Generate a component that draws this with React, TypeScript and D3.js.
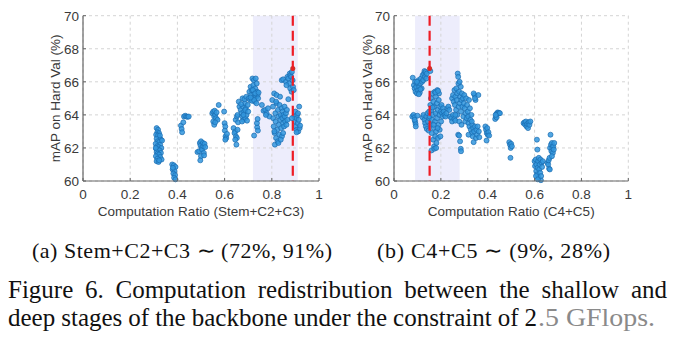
import React, { useMemo } from "react";
import * as d3 from "d3";

// ---------- DATA ----------
const xTicks = [0, 0.2, 0.4, 0.6, 0.8, 1];
const xTickLabels = ["0", "0.2", "0.4", "0.6", "0.8", "1"];
const yTicks = [60, 62, 64, 66, 68, 70];
const yTickLabels = ["60", "62", "64", "66", "68", "70"];

const yLabel = "mAP on Hard Val (%)";
const xLabelA = "Computation Ratio (Stem+C2+C3)";
const xLabelB = "Computation Ratio (C4+C5)";
const captionA = "(a) Stem+C2+C3 \u223C (72%, 91%)";
const captionB = "(b) C4+C5 \u223C (9%, 28%)";
const figLine1 = ["Figure", "6.", "Computation", "redistribution", "between", "the", "shallow", "and"];
const figLine2 = ["deep", "stages", "of", "the", "backbone", "under", "the", "constraint", "of", "2"];
const figTail = ".5 GFlops.";

const rangeA = [0.72, 0.91];
const bestA = [0.889, 66.8];
const rangeB = [0.09, 0.28];
const bestB = [0.152, 66.8];

const pointsA: [number, number][] = [
  [0.312,63.2],[0.318,63.1],[0.315,62.95],[0.322,62.9],[0.31,62.8],[0.318,62.75],[0.325,62.6],[0.312,62.55],[0.33,62.5],[0.316,62.4],[0.322,62.35],[0.308,62.25],[0.327,62.2],[0.314,62.1],[0.32,62.05],[0.332,62.0],[0.31,61.95],[0.318,61.9],[0.325,61.85],[0.312,61.75],[0.33,61.7],[0.316,61.65],[0.322,61.6],[0.309,61.5],[0.327,61.45],[0.315,61.35],[0.333,61.3],[0.312,61.2],[0.32,61.15],[0.326,62.75],[0.335,62.45],[0.308,62.0],[0.323,61.25],
  [0.378,61.0],[0.385,60.95],[0.392,60.85],[0.38,60.7],[0.388,60.6],[0.383,60.45],[0.39,60.35],[0.386,60.2],[0.392,60.1],[0.381,60.8],
  [0.415,63.35],[0.418,63.15],[0.42,62.95],[0.425,63.55],[0.428,63.9],[0.433,63.95],[0.438,63.9],[0.443,63.88],[0.448,63.9],
  [0.485,61.75],[0.492,61.8],[0.495,62.3],[0.5,62.4],[0.498,62.15],[0.503,62.0],[0.508,62.3],[0.505,61.9],[0.51,62.1],[0.512,61.7],[0.515,62.25],[0.5,61.5],[0.497,61.25],[0.513,61.55],[0.518,62.05],
  [0.548,64.1],[0.552,64.2],[0.556,63.9],[0.552,63.6],[0.556,63.4],[0.56,64.0],[0.564,63.8],[0.558,64.25],[0.566,64.15],[0.57,63.7],[0.575,64.6],[0.56,63.55],
  [0.598,64.2],[0.6,63.5],[0.603,63.3],[0.601,63.05],[0.604,62.7],[0.607,62.6],[0.603,62.5],[0.61,62.85],
  [0.638,63.2],[0.645,63.0],[0.642,62.9],[0.648,62.7],[0.652,62.6],[0.645,62.5],[0.65,62.2],[0.655,63.1],[0.647,63.7],[0.652,63.9],[0.655,64.0],[0.66,64.8],[0.663,64.5],[0.657,63.55],
  [0.668,64.3],[0.672,64.1],[0.675,63.9],[0.678,64.5],[0.68,63.7],[0.683,64.2],[0.686,64.7],[0.688,63.8],[0.69,64.4],[0.693,64.0],[0.695,63.65],[0.698,64.6],[0.67,64.65],[0.676,65.0],[0.684,64.95],[0.692,65.1],[0.68,64.0],[0.688,64.3],[0.7,64.2],[0.674,63.6],
  [0.702,65.0],[0.705,65.4],[0.708,64.9],[0.71,65.7],[0.712,65.2],[0.715,65.5],[0.718,66.2],[0.72,65.0],[0.722,65.8],[0.724,66.1],[0.726,65.3],[0.728,64.8],[0.73,65.6],[0.732,66.2],[0.734,65.1],[0.736,65.9],[0.738,65.4],[0.74,65.2],[0.742,65.0],[0.716,64.85],[0.725,64.9],[0.735,64.7],[0.71,65.05],[0.72,65.5],[0.73,65.3],[0.744,65.35],
  [0.725,62.75],[0.738,63.25],[0.737,63.5],[0.74,63.75],[0.741,63.05],
  [0.758,64.6],[0.765,64.25],[0.772,64.3],[0.778,64.1],[0.784,64.4],[0.79,63.9],[0.775,64.0],
  [0.802,64.9],[0.805,64.5],[0.806,63.8],[0.808,63.3],[0.81,65.3],[0.812,62.9],[0.813,62.2],[0.815,64.1],[0.816,63.6],[0.818,62.6],[0.82,65.2],[0.821,64.7],[0.823,63.1],[0.825,62.4],[0.826,64.3],[0.828,63.9],[0.83,63.4],[0.832,62.8],[0.833,64.6],[0.835,65.1],[0.836,63.7],[0.838,64.0],[0.84,63.2],[0.842,64.4],[0.843,62.7],[0.845,63.8],[0.846,64.2],[0.848,63.5],[0.85,64.0],[0.852,63.3],[0.854,64.5],[0.855,63.9],[0.857,63.6],[0.86,64.1],[0.862,63.4],[0.864,64.3],[0.866,63.7],[0.818,64.8],[0.828,62.3],[0.838,62.5],[0.848,62.9],[0.811,63.0],
  [0.842,66.1],[0.848,66.15],[0.86,66.0],[0.866,66.3],[0.87,66.2],[0.873,65.9],[0.876,66.5],[0.879,66.4],[0.882,66.3],[0.885,66.6],[0.888,66.1],[0.878,65.6],[0.884,65.4],[0.89,65.7],[0.893,65.5],[0.87,64.95],[0.862,65.8],
  [0.895,63.9],[0.898,63.6],[0.9,64.2],[0.902,63.3],[0.904,63.8],[0.906,63.1],[0.908,64.0],[0.91,63.5],[0.912,63.0],[0.914,63.7],[0.916,64.5],[0.918,63.2],[0.92,63.35],[0.905,62.95],[0.885,63.8],[0.911,64.1],
];

const pointsB: [number, number][] = [
  [0.08,66.25],[0.085,65.8],[0.088,65.6],[0.09,66.0],[0.092,65.4],[0.095,65.7],[0.098,65.3],[0.1,65.9],[0.103,65.5],[0.105,66.1],[0.108,65.7],[0.11,65.35],[0.112,65.9],[0.115,66.2],[0.118,65.6],[0.12,66.0],[0.122,66.4],[0.125,66.1],[0.128,66.5],[0.13,66.65],[0.132,66.3],[0.135,66.6],[0.113,65.55],[0.106,65.25],[0.138,66.2],[0.14,66.5],[0.155,66.65],[0.098,66.0],
  [0.078,63.9],[0.083,64.0],[0.088,63.85],[0.09,63.6],[0.092,63.45],[0.093,63.3],[0.1,63.95],[0.088,63.7],
  [0.122,63.85],[0.126,64.0],[0.13,63.7],[0.133,63.5],[0.136,63.3],[0.138,63.9],[0.14,63.15],[0.143,64.1],[0.145,63.6],[0.148,63.05],[0.15,63.8],
  [0.15,64.2],[0.152,63.9],[0.155,64.6],[0.156,63.4],[0.158,65.0],[0.16,64.3],[0.161,62.9],[0.163,63.7],[0.164,65.3],[0.166,64.0],[0.167,62.5],[0.168,64.8],[0.17,63.2],[0.171,62.1],[0.172,64.5],[0.174,65.4],[0.175,63.6],[0.176,62.7],[0.178,64.1],[0.179,65.1],[0.18,63.0],[0.181,62.3],[0.183,64.7],[0.184,63.8],[0.185,65.5],[0.187,64.3],[0.188,62.6],[0.19,63.4],[0.191,64.9],[0.192,65.3],[0.194,64.0],[0.195,63.1],[0.197,64.5],[0.198,62.7],[0.2,64.2],[0.201,63.6],[0.203,64.6],[0.205,64.1],[0.207,63.9],[0.209,64.4],[0.16,61.85],[0.172,61.95],[0.18,62.0],[0.165,64.45],[0.177,65.35],[0.188,65.45],[0.169,63.4],[0.186,63.2],
  [0.212,64.2],[0.216,64.0],[0.22,63.9],[0.224,64.1],[0.228,64.4],[0.232,64.5],[0.236,64.3],[0.24,63.9],[0.245,63.8],[0.248,63.6],[0.252,64.0],[0.258,63.75],[0.262,63.65],
  [0.248,65.0],[0.252,65.2],[0.255,64.8],[0.258,65.5],[0.26,64.6],[0.262,65.1],[0.265,64.3],[0.266,65.6],[0.268,64.9],[0.27,65.3],[0.272,66.5],[0.274,66.3],[0.275,65.9],[0.276,64.5],[0.278,65.4],[0.28,66.0],[0.281,64.7],[0.283,65.1],[0.285,65.7],[0.286,64.2],[0.288,64.9],[0.29,65.3],[0.292,64.5],[0.294,65.0],[0.296,63.9],[0.298,64.7],[0.3,65.2],[0.302,64.4],[0.304,63.6],[0.306,64.1],[0.308,65.0],[0.31,63.8],[0.27,64.0],[0.279,63.6],[0.288,63.4],[0.262,64.0],
  [0.274,62.8],[0.278,62.75],[0.282,62.4],[0.285,61.95],[0.286,61.8],
  [0.312,64.6],[0.315,64.2],[0.317,63.9],[0.318,63.5],[0.32,64.9],[0.322,63.3],[0.324,64.4],[0.326,63.7],[0.328,63.1],[0.33,64.0],[0.332,62.9],[0.334,63.4],[0.336,62.7],[0.338,63.2],[0.34,62.35],[0.342,63.0],[0.344,65.2],[0.346,63.3],[0.348,64.9],[0.35,62.6],[0.352,63.1],[0.355,62.8],[0.357,63.3],[0.36,65.2],[0.362,63.0],[0.364,62.65],[0.34,65.3],[0.345,65.0],[0.318,62.8],[0.332,63.6],
  [0.39,63.3],[0.393,63.1],[0.396,62.9],[0.398,63.2],[0.4,62.8],[0.403,62.95],[0.406,62.75],[0.395,62.45],
  [0.432,63.75],[0.435,63.9],[0.437,64.05],[0.44,64.1],[0.443,64.15],[0.446,64.1],[0.449,64.12],[0.452,64.1],[0.438,63.85],[0.434,64.0],
  [0.492,62.35],[0.495,62.2],[0.498,62.0],[0.5,62.25],[0.503,62.1],[0.497,61.4],
  [0.553,63.5],[0.557,63.55],[0.56,63.4],[0.563,63.6],[0.566,63.3],[0.569,63.45],[0.572,63.2],[0.575,63.55],[0.578,63.4],[0.582,63.6],
  [0.6,61.2],[0.602,60.9],[0.605,61.3],[0.607,60.6],[0.608,61.0],[0.61,62.5],[0.611,60.4],[0.612,61.9],[0.613,60.8],[0.615,61.2],[0.617,60.2],[0.618,61.4],[0.62,60.7],[0.622,61.0],[0.624,60.5],[0.625,61.3],[0.627,60.05],[0.63,61.1],[0.632,60.85],[0.606,60.3],[0.614,60.1],[0.635,61.2],[0.628,60.3],
  [0.655,61.1],[0.658,61.0],[0.66,61.25],[0.662,60.75],[0.664,61.4],[0.666,62.0],[0.668,62.8],[0.67,62.2],[0.672,61.8],[0.674,62.3],[0.676,62.0],[0.678,61.7],[0.68,62.1],[0.682,61.9],[0.684,62.3],[0.665,60.7],[0.674,61.5],
];

// ---------- STYLE ----------
const SANS = "'Liberation Sans', Arial, sans-serif";
const SERIF = "'Liberation Serif', 'Times New Roman', serif";
const TXT = "#3a3a3a";

type PanelProps = {
  x0: number; x1: number; y0: number; y1: number;
  points: [number, number][]; range: number[]; best: number[];
  xLabel: string; yLabelX: number;
};

function Panel({ x0, x1, y0, y1, points, range, best, xLabel, yLabelX }: PanelProps) {
  const x = d3.scaleLinear().domain([0, 1]).range([x0, x1]);
  const y = d3.scaleLinear().domain([60, 70]).range([y1, y0]);
  return (
    <g>
      <rect x={x(range[0])} y={y0} width={x(range[1]) - x(range[0])} height={y1 - y0} fill="#ededfc" />
      {xTicks.map((t) => (
        <line key={"gx" + t} x1={x(t)} x2={x(t)} y1={y0} y2={y1} stroke="#d4d4d4" strokeWidth={1} strokeDasharray="3,3" />
      ))}
      {yTicks.map((t) => (
        <line key={"gy" + t} x1={x0} x2={x1} y1={y(t)} y2={y(t)} stroke="#d4d4d4" strokeWidth={1} strokeDasharray="3,3" />
      ))}
      {points.map((p, i) => (
        <circle key={i} cx={x(p[0])} cy={y(p[1])} r={2.5} fill="#3297dd" fillOpacity={0.85} stroke="#1a6cb0" strokeWidth={0.7} />
      ))}
      <circle cx={x(best[0])} cy={y(best[1])} r={2.5} fill="#c0392b" />
      <line x1={x(best[0])} x2={x(best[0])} y1={y0} y2={y1} stroke="#ee1c25" strokeWidth={2.2} strokeDasharray="10,5" />
      <line x1={x0} x2={x1} y1={y1} y2={y1} stroke="#666" strokeWidth={1.2} />
      <line x1={x0} x2={x0} y1={y0} y2={y1} stroke="#666" strokeWidth={1.2} />
      {xTicks.map((t, i) => (
        <g key={"tx" + t}>
          <line x1={x(t)} x2={x(t)} y1={y1} y2={y1 - 3} stroke="#666" strokeWidth={1} />
          <text x={x(t)} y={199} textAnchor="middle" fontSize={13.5} fontFamily={SANS} fill={TXT}>{xTickLabels[i]}</text>
        </g>
      ))}
      {yTicks.map((t, i) => (
        <g key={"ty" + t}>
          <line x1={x0} x2={x0 + 3} y1={y(t)} y2={y(t)} stroke="#666" strokeWidth={1} />
          <text x={x0 - 4} y={y(t) + 4.8} textAnchor="end" fontSize={13.5} fontFamily={SANS} fill={TXT}>{yTickLabels[i]}</text>
        </g>
      ))}
      <text x={(x0 + x1) / 2} y={215.5} textAnchor="middle" fontSize={13.5} fontFamily={SANS} fill={TXT}>{xLabel}</text>
      <text transform={`translate(${yLabelX},${(y0 + y1) / 2}) rotate(-90)`} dy="0.35em" textAnchor="middle" fontSize={13.5} fontFamily={SANS} fill={TXT}>{yLabel}</text>
    </g>
  );
}

function justify(words: string[], font: string, left: number, right: number) {
  const c = document.createElement("canvas").getContext("2d")!;
  c.font = font;
  const w = words.map((s) => c.measureText(s).width);
  const total = w.reduce((a, b) => a + b, 0);
  const gap = (right - left - total) / (words.length - 1);
  const xs: number[] = [];
  let cur = left;
  w.forEach((ww) => { xs.push(cur); cur += ww + gap; });
  return xs;
}

export default function App() {
  const FS = 25;
  const font = `${FS}px 'Liberation Serif'`;
  const xs1 = useMemo(() => justify(figLine1, font, 8, 667), []);
  const xs2 = useMemo(() => justify(figLine2, font, 8, 537), []);
  return (
    <svg width={675} height={341} style={{ position: "absolute", left: 0, top: 0, background: "#fff" }}>
      <Panel x0={83} x1={319} y0={15.7} y1={181} points={pointsA} range={rangeA} best={bestA} xLabel={xLabelA} yLabelX={55} />
      <Panel x0={394} x1={628.3} y0={15.7} y1={181} points={pointsB} range={rangeB} best={bestB} xLabel={xLabelB} yLabelX={367} />
      <text x={32} y={258} fontSize={22} fontFamily={SERIF} fill="#111" textLength={300} lengthAdjust="spacing">{captionA}</text>
      <text x={377} y={258} fontSize={22} fontFamily={SERIF} fill="#111" textLength={233} lengthAdjust="spacing">{captionB}</text>
      {figLine1.map((wd, i) => (
        <text key={"l1" + i} x={xs1[i]} y={298} fontSize={FS} fontFamily={SERIF} fill="#111">{wd}</text>
      ))}
      {figLine2.map((wd, i) => (
        <text key={"l2" + i} x={xs2[i]} y={326} fontSize={FS} fontFamily={SERIF} fill="#111">{wd}</text>
      ))}
      <text x={538} y={326} fontSize={FS} fontFamily={SERIF} fill="#8a8a8a" textLength={117} lengthAdjust="spacingAndGlyphs">{figTail}</text>
    </svg>
  );
}
